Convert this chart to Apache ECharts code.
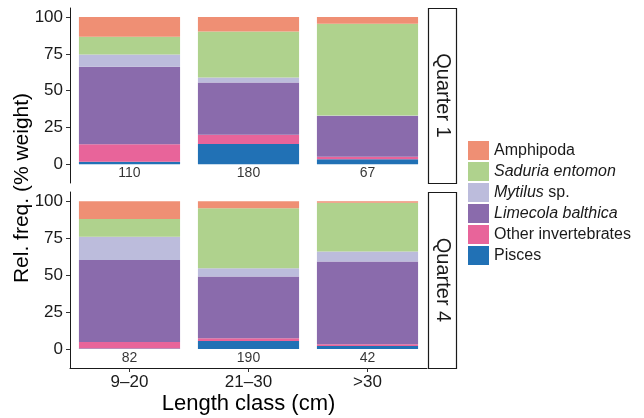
<!DOCTYPE html>
<html>
<head>
<meta charset="utf-8">
<script src="https://cdn.jsdelivr.net/npm/echarts@6/dist/echarts.min.js"></script>
<style>html,body{margin:0;padding:0;background:#fff}#c{width:644px;height:418px}</style>
</head>
<body>
<div id="c"></div>
<script>
const categories = ['9–20', '21–30', '>30'];
const groups = ['Amphipoda', 'Saduria entomon', 'Mytilus sp.', 'Limecola balthica', 'Other invertebrates', 'Pisces'];
const colors = ['#EF8F74', '#AFD28D', '#BCBCDC', '#8A6BAC', '#E8649A', '#2171B5'];
const quarters = ['Quarter 1', 'Quarter 4'];
// Quarter 1 values (% weight) per group, per length class
const q1Amphipoda = [13.4, 9.8, 4.5];
const q1Saduria = [12.0, 31.2, 62.4];
const q1Mytilus = [8.4, 3.4, 0.4];
const q1Limecola = [52.6, 35.6, 27.7];
const q1Other = [12.0, 6.2, 1.6];
const q1Pisces = [1.6, 13.8, 3.4];
const q1Counts = [110, 180, 67];
// Quarter 4
const q4Amphipoda = [12.0, 4.8, 1.1];
const q4Saduria = [12.0, 40.6, 32.9];
const q4Mytilus = [15.7, 5.6, 6.8];
const q4Limecola = [55.5, 41.7, 56.0];
const q4Other = [4.4, 1.9, 1.2];
const q4Pisces = [0.4, 5.4, 2.0];
const q4Counts = [82, 190, 42];
const yTicks = [0, 25, 50, 75, 100];
const countLabelY = -6;

const FONT = 'Liberation Sans, Arial, sans-serif';
const chart = echarts.init(document.getElementById('c'));

const q1 = [q1Amphipoda, q1Saduria, q1Mytilus, q1Limecola, q1Other, q1Pisces];
const q4 = [q4Amphipoda, q4Saduria, q4Mytilus, q4Limecola, q4Other, q4Pisces];

const series = [];
[q1, q4].forEach((qd, gi) => {
  // stack from bottom: Pisces first
  for (let k = groups.length - 1; k >= 0; k--) {
    series.push({
      name: groups[k], type: 'bar', stack: 's' + gi,
      xAxisIndex: gi, yAxisIndex: gi, barWidth: '85%',
      itemStyle: { color: colors[k] },
      data: qd[k]
    });
  }
  const counts = gi === 0 ? q1Counts : q4Counts;
  series.push({
    type: 'scatter', xAxisIndex: gi, yAxisIndex: gi, symbolSize: 0, silent: true,
    data: counts.map((c, i) => ({ value: [categories[i], countLabelY], label: { formatter: String(c) } })),
    label: { show: true, position: 'inside', color: '#000', fontSize: 14, fontFamily: FONT }
  });
});

const panelLeft = 70, panelWidth = 357;
const panels = [{ top: 8, height: 175 }, { top: 192, height: 176 }];

function yAxis(i) {
  return {
    type: 'value', gridIndex: i, min: -12.8, max: 106.2,
    splitLine: { show: false },
    axisLine: { show: true, lineStyle: { color: '#1a1a1a', width: 1 } },
    axisTick: { show: true, length: 4, customValues: yTicks, lineStyle: { color: '#333' } },
    axisLabel: { customValues: yTicks, fontSize: 17, color: '#1a1a1a', margin: 7, fontFamily: FONT }
  };
}

const option = {
  animation: false,
  textStyle: { fontFamily: FONT },
  grid: panels.map(p => ({ left: panelLeft, top: p.top, width: panelWidth, height: p.height })),
  xAxis: [
    { type: 'category', gridIndex: 0, data: categories, axisLine: { show: false, onZero: false }, axisTick: { show: false }, axisLabel: { show: false } },
    { type: 'category', gridIndex: 1, data: categories,
      axisLine: { show: true, onZero: false, lineStyle: { color: '#1a1a1a', width: 1 } },
      axisTick: { show: true, alignWithLabel: true, length: 4, lineStyle: { color: '#333' } },
      axisLabel: { fontSize: 17, color: '#1a1a1a', margin: 6, fontFamily: FONT },
      name: 'Length class (cm)', nameLocation: 'middle', nameGap: 25,
      nameTextStyle: { fontSize: 22, color: '#000', fontFamily: FONT } }
  ],
  yAxis: [yAxis(0), yAxis(1)],
  legend: {
    orient: 'vertical', left: 463, top: 136,
    itemWidth: 21, itemHeight: 19, itemGap: 2, icon: 'rect',
    data: groups,
    formatter: function (n) {
      if (n === 'Saduria entomon') return '{i|Saduria entomon}';
      if (n === 'Mytilus sp.') return '{i|Mytilus} sp.';
      if (n === 'Limecola balthica') return '{i|Limecola balthica}';
      return n;
    },
    textStyle: { fontSize: 16, color: '#1a1a1a', fontFamily: FONT,
      rich: { i: { fontStyle: 'italic', fontSize: 16, color: '#1a1a1a', fontFamily: FONT } } }
  },
  graphic: [
    { type: 'text', x: 22, y: 188, rotation: Math.PI / 2,
      style: { text: 'Rel. freq. (% weight)', fontSize: 21, fill: '#000', fontFamily: FONT, align: 'center', verticalAlign: 'middle' } }
  ].concat(panels.flatMap((p, i) => [
    { type: 'rect', shape: { x: 428.5, y: p.top + 0.5, width: 28, height: p.height },
      style: { fill: '#fff', stroke: '#1a1a1a', lineWidth: 1.2 } },
    { type: 'text', x: 442.5, y: p.top + p.height / 2, rotation: -Math.PI / 2,
      style: { text: quarters[i], fontSize: 20, fill: '#1a1a1a', fontFamily: FONT, align: 'center', verticalAlign: 'middle' } }
  ])),
  series: series
};
chart.setOption(option);
</script>
</body>
</html>
